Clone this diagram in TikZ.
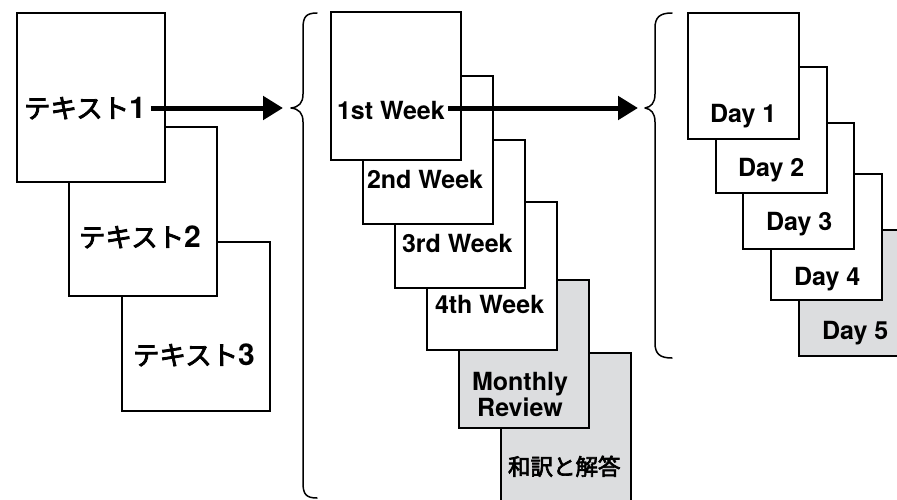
\documentclass[tikz,border=0pt]{standalone}
\usepackage{fontspec}
\setmainfont{TeX Gyre Heros}
\newfontfamily\jp{Noto Sans CJK JP}[FakeBold=3]
\usetikzlibrary{arrows.meta}
\definecolor{pagegray}{RGB}{220,221,223}
\newcommand\textlabel[1]{{\fontsize{26.5}{28}\selectfont\mdseries\jp テキスト}{\fontsize{30}{30}\selectfont #1}}
\begin{document}
\begin{tikzpicture}[x=1pt,y=-1pt,
  box/.style={draw=black, line width=2pt, fill=white, inner sep=0pt, outer sep=0pt, anchor=north west},
  bigbox/.style={box, minimum width=148pt, minimum height=169pt},
  weekbox/.style={box, minimum width=130pt, minimum height=148pt},
  weekgray/.style={weekbox, fill=pagegray},
  daybox/.style={box, minimum width=111pt, minimum height=126pt},
  daygray/.style={daybox, fill=pagegray},
  txt/.style={inner sep=0pt, outer sep=0pt, font=\fontsize{25}{26}\selectfont\bfseries},
  lbl/.style={txt, anchor=base west},
  arr/.style={line width=5pt, -{Triangle[length=20pt,width=23pt]}},
  brace/.style={line width=1.5pt, line cap=round, line join=round}]
\useasboundingbox (0,0) rectangle (897,499);
\clip (0,0) rectangle (897,499);

% left group
\node[bigbox] (t3) at (122,242) {};
\node[bigbox] (t2) at (69,127) {};
\node[bigbox] (t1) at (17,13) {};
\node[lbl] (t1l) at (24,118) {\textlabel{1}};
\node[lbl] (t2l) at (79,247) {\textlabel{2}};
\node[lbl] (t3l) at (133,365) {\textlabel{3}};

% middle group
\node[weekgray] (wk) at (501,353) {};
\node[weekgray] (mr) at (459,280) {};
\node[weekbox] (w4) at (427,202) {};
\node[weekbox] (w3) at (395,140) {};
\node[weekbox] (w2) at (363,76) {};
\node[weekbox] (w1) at (331,12) {};
\node[lbl] (w1l) at (337,119) {1st Week};
\node[lbl] (w2l) at (367,188) {2nd Week};
\node[lbl] (w3l) at (402,252) {3rd Week};
\node[lbl] (w4l) at (435,313) {4th Week};
\node[txt, align=center] (mrl) at (520,394) {Monthly\\Review};
\node[lbl] (wkl) at (508,475) {\fontsize{22.5}{24}\selectfont\mdseries\jp 和訳と解答};

% right group
\node[daygray] (d5) at (799,230) {};
\node[daybox] (d4) at (771,174) {};
\node[daybox] (d3) at (743,123) {};
\node[daybox] (d2) at (716,67) {};
\node[daybox] (d1) at (688,13) {};
\node[lbl] (d1l) at (710,122) {Day 1};
\node[lbl] (d2l) at (738,176) {Day 2};
\node[lbl] (d3l) at (766,230) {Day 3};
\node[lbl] (d4l) at (794,285) {Day 4};
\node[lbl] (d5l) at (822,339) {Day 5};

% braces
\coordinate (b1) at (291,108);
\coordinate (b2) at (645,108);
\draw[brace] (317,13) .. controls (306,13) and (303,17) .. (303,28) -- (303,94)
  .. controls (303,103) and (299,107) .. (b1)
  .. controls (299,109) and (303,113) .. (303,122) -- (303,483)
  .. controls (303,494) and (306,498) .. (317,498);
\draw[brace] (672,13) .. controls (660,13) and (655,17) .. (655,28) -- (655,94)
  .. controls (655,103) and (651,107) .. (b2)
  .. controls (651,109) and (655,113) .. (655,122) -- (655,343)
  .. controls (655,354) and (660,358) .. (672,358);

% arrows
\draw[arr, shorten <=5pt, shorten >=8pt] (t1l.east |- b1) -- (b1);
\draw[arr, shorten <=3pt, shorten >=7pt] (w1l.east |- b2) -- (b2);
\end{tikzpicture}
\end{document}
